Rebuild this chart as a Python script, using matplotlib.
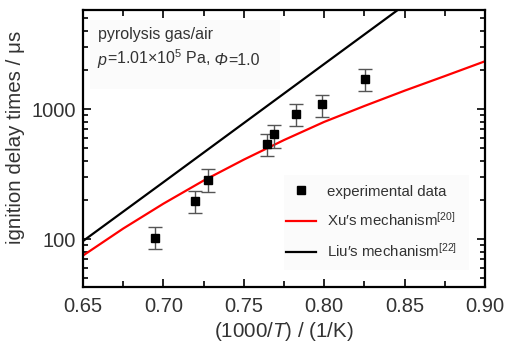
import matplotlib
matplotlib.use("Agg")
import matplotlib.pyplot as plt
from matplotlib.ticker import FixedLocator, LogLocator, NullFormatter, FixedFormatter
from matplotlib.lines import Line2D
from matplotlib.patches import Rectangle

FONT = "Liberation Sans"
plt.rcParams["font.family"] = [FONT, "DejaVu Sans"]
plt.rcParams["mathtext.fontset"] = "custom"
plt.rcParams["mathtext.rm"] = FONT
plt.rcParams["mathtext.it"] = FONT + ":italic"
plt.rcParams["mathtext.bf"] = FONT + ":bold"

# experimental data
exp_x = [0.695, 0.7197, 0.7276, 0.7645, 0.769, 0.7826, 0.7985, 0.8255]
exp_y = [102, 197, 288, 539, 645, 927, 1092, 1722]
exp_lo = [84, 158, 231, 440, 507, 750, 871, 1385]
exp_hi = [125, 235, 345, 640, 762, 1107, 1290, 2055]

# Xu's mechanism
xu_x = [0.65, 0.675, 0.70, 0.725, 0.75, 0.775, 0.80, 0.825, 0.85, 0.875, 0.90]
xu_y = [75, 121, 188, 283, 410, 580, 800, 1060, 1390, 1800, 2340]

# Liu's mechanism
liu_x = [0.65, 0.70, 0.75, 0.80, 0.85]
liu_y = [97, 275, 783, 2230, 6340]

xticks = [0.65, 0.70, 0.75, 0.80, 0.85, 0.90]
xticklabels = ["0.65", "0.70", "0.75", "0.80", "0.85", "0.90"]
yticks = [100, 1000]
yticklabels = ["100", "1000"]

TICK_FS = 14.5
LAB_FS = 14.8
LEG_FS = 10.8
BOX_FS = 11.5
TXT = "#333333"

fig = plt.figure(figsize=(5.2, 3.47), dpi=100)
ax = fig.add_axes([0.1596, 0.1729, 0.9327 - 0.1596, 0.9712 - 0.1729])

# faint background boxes (axes fraction)
ax.add_patch(Rectangle((0.017, 0.714), 0.473, 0.25, transform=ax.transAxes,
                       facecolor="#fbfbfb", edgecolor="none", zorder=0))
ax.add_patch(Rectangle((0.50, 0.061), 0.46, 0.343, transform=ax.transAxes,
                       facecolor="#fbfbfb", edgecolor="none", zorder=0))

ax.plot(liu_x, liu_y, color="black", lw=1.6, zorder=2)
ax.plot(xu_x, xu_y, color="#ff0000", lw=1.6, zorder=2)
yerr = [[y - l for y, l in zip(exp_y, exp_lo)], [h - y for y, h in zip(exp_y, exp_hi)]]
ax.errorbar(exp_x, exp_y, yerr=yerr, fmt="s", color="black", ms=5.5, mec="black",
            ecolor="#555555", elinewidth=1.0, capsize=5, capthick=1.0, zorder=3)

ax.set_yscale("log")
ax.set_xlim(0.65, 0.90)
ax.set_ylim(43, 5800)

ax.xaxis.set_major_locator(FixedLocator(xticks))
ax.xaxis.set_major_formatter(FixedFormatter(xticklabels))
ax.xaxis.set_minor_locator(FixedLocator([0.675, 0.725, 0.775, 0.825, 0.875]))
ax.yaxis.set_major_locator(FixedLocator(yticks))
ax.yaxis.set_major_formatter(FixedFormatter(yticklabels))
ax.yaxis.set_minor_locator(LogLocator(base=10, subs=range(2, 10)))
ax.yaxis.set_minor_formatter(NullFormatter())

ax.tick_params(which="both", direction="in", top=True, right=True, colors="black",
               labelcolor=TXT, labelsize=TICK_FS, width=1.2)
ax.tick_params(which="major", length=6)
ax.tick_params(which="minor", length=3.5)
ax.tick_params(axis="x", which="minor", length=4)
ax.tick_params(axis="x", pad=7)
ax.tick_params(axis="y", pad=5)
for sp in ax.spines.values():
    sp.set_linewidth(1.6)

ax.set_xlabel("(1000/$\\mathit{T}$) / (1/K)", fontsize=LAB_FS, color=TXT, labelpad=3)
ax.set_ylabel("ignition delay times / \u03bcs", fontsize=LAB_FS, color=TXT)
ax.yaxis.set_label_coords(-0.145, 0.54)

ax.text(0.037, 0.913, "pyrolysis gas/air", transform=ax.transAxes, fontsize=BOX_FS,
        color=TXT, va="center", ha="left")
# second line built from pieces so that p and Phi are italic
pieces = [("p", "italic"), ("=1.01\u00d710$^{5}$ Pa,", "normal"),
          (" \u03a6", "italic"), ("=1.0", "normal")]
prev = ax.text(0.037, 0.800, pieces[0][0], transform=ax.transAxes, fontsize=BOX_FS,
               color=TXT, va="baseline", ha="left", fontstyle=pieces[0][1])
for txt, style in pieces[1:]:
    prev = ax.annotate(txt, xy=(1, 0), xycoords=prev, fontsize=BOX_FS, color=TXT,
                       va="bottom", ha="left", fontstyle=style)

handles = [
    Line2D([], [], ls="none", marker="s", ms=5.5, color="black"),
    Line2D([], [], color="#ff0000", lw=1.6),
    Line2D([], [], color="black", lw=1.6),
]
labels = ["experimental data", "Xu\u2032s mechanism$^{[20]}$", "Liu\u2032s mechanism$^{[22]}$"]
leg = ax.legend(handles, labels, loc="center left", bbox_to_anchor=(0.505, 0.234),
                frameon=False, fontsize=LEG_FS, handlelength=2.0, handletextpad=0.75,
                labelspacing=0.85, borderaxespad=0, borderpad=0)
for t in leg.get_texts():
    t.set_color(TXT)

fig.savefig("out.png", dpi=100)
